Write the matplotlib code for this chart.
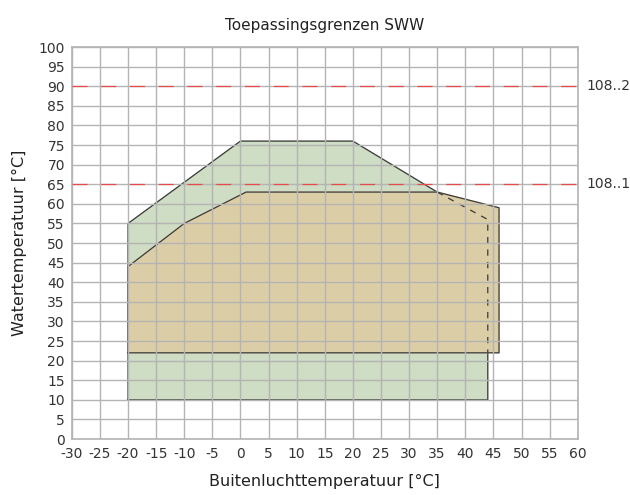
import matplotlib.pyplot as plt
import numpy as np

plt.rcParams['axes.unicode_minus'] = False

# working envelopes (outdoor temp, water temp)
green_x = [-20, -20, 0, 20, 35, 44, 44]
green_y = [10, 55, 76, 76, 63, 56, 10]
beige_x = [-20, -20, -10, 1, 35, 46, 46]
beige_y = [22, 44, 55, 63, 63, 59, 22]
dash_x = [35, 44, 44]
dash_y = [63, 56, 22]
limit_vals = [90, 65]
limit_labels = ['108..2', '108..1']

fig = plt.figure(figsize=(6.3, 4.95), dpi=100)
ax = fig.add_axes([0.114, 0.113, 0.803, 0.792])

ax.fill(green_x, green_y, color='#cfddc4', zorder=1)
ax.plot(green_x + [green_x[0]], green_y + [green_y[0]], color='#3a3a3a', lw=0.9, zorder=1.1)
ax.fill(beige_x, beige_y, color='#dbcda5', zorder=1.5)
ax.plot(beige_x + [beige_x[0]], beige_y + [beige_y[0]], color='#3a3a3a', lw=0.9, zorder=1.6)
ax.plot(dash_x, dash_y, color='#3a3a3a', lw=0.9, ls=(0, (5, 5)), zorder=1.7)

for v, lab in zip(limit_vals, limit_labels):
    ax.axhline(v, color='#e84a4a', lw=0.9, ls=(0, (12, 11)), zorder=3)
    ax.text(61.5, v, lab, va='center', ha='left', fontsize=10, color='#333333')

ax.set_xlim(-30, 60)
ax.set_ylim(0, 100)
ax.set_xticks(np.arange(-30, 61, 5))
ax.set_yticks(np.arange(0, 101, 5))
ax.grid(True, color='#b4b4b4', lw=1.0, zorder=2)
ax.set_axisbelow(False)
for s in ax.spines.values():
    s.set_color('#b4b4b4')
    s.set_linewidth(1.2)
ax.tick_params(length=0, labelsize=10, colors='#333333')
ax.tick_params(axis='x', pad=6)
ax.tick_params(axis='y', pad=5)

ax.set_title('Toepassingsgrenzen SWW', fontsize=11, color='#222222', pad=12)
ax.set_xlabel('Buitenluchttemperatuur [°C]', fontsize=11.5, color='#222222', labelpad=9)
ax.set_ylabel('Watertemperatuur [°C]', fontsize=11.5, color='#222222', labelpad=8)

fig.savefig('out.png', dpi=100)
